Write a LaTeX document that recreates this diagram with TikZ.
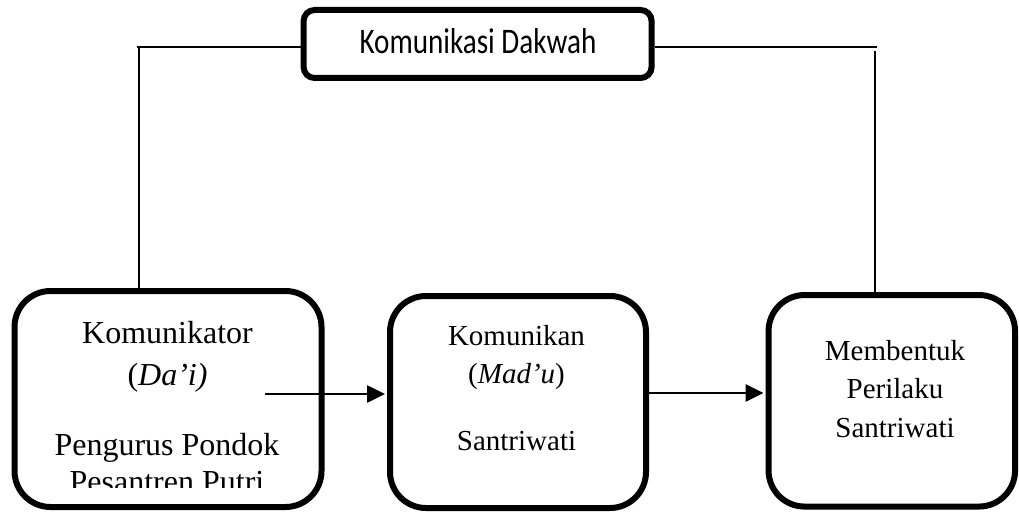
\documentclass[tikz,border=0pt]{standalone}
\usepackage{fontspec}
\setmainfont{Liberation Serif}
\newfontfamily\calib[FakeStretch=0.81]{Carlito}
\usetikzlibrary{arrows.meta}
\begin{document}
\begin{tikzpicture}[x=1pt,y=-1pt,
  bigbox/.style={draw=black, line width=6pt, rounded corners=36pt, inner sep=0pt, fill=none},
  topbox/.style={draw=black, line width=6pt, rounded corners=11pt, inner sep=0pt},
  conn/.style={draw=black, line width=1.7pt},
  arr/.style={draw=black, line width=2.6pt, -{Triangle[length=18pt,width=17pt]}},
  txtL/.style={anchor=base, inner sep=0pt, font=\fontsize{32}{38}\selectfont},
  txtM/.style={anchor=base, inner sep=0pt, font=\fontsize{29}{35}\selectfont},
  txtT/.style={anchor=base, inner sep=0pt, font=\calib\fontsize{36}{40}\selectfont}]
\useasboundingbox (0,0) rectangle (1019,513);
% boxes
\node[topbox, minimum width=348pt, minimum height=68pt] (top) at (477.6,44) {};
\node[bigbox, minimum width=307pt, minimum height=216pt] (kom) at (168,399) {};
\node[bigbox, minimum width=256pt, minimum height=212pt] (mid) at (518,402) {};
\node[bigbox, minimum width=246.5pt, minimum height=211.5pt] (rgt) at (891.8,400.8) {};
% texts
\node[txtT] (ttop) at (478,54) {Komunikasi Dakwah};
\node[txtL] (l1) at (167.5,343) {Komunikator};
\node[txtL] (l2) at (167.5,385) {(\textit{Da’i)}};
\node[txtL] (l3) at (167,455) {Pengurus Pondok};
\begin{scope}
\clip (0,0) rectangle (1019,487);
\node[txtL] (l4) at (167,492) {Pesantren Putri};
\end{scope}
\node[txtM] (m1) at (516.5,345) {Komunikan};
\node[txtM] (m2) at (516.5,383) {(\textit{Mad’u})};
\node[txtM] (m3) at (516.5,450) {Santriwati};
\node[txtM] (r1) at (895,360) {Membentuk};
\node[txtM] (r2) at (895,398) {Perilaku};
\node[txtM] (r3) at (895,437) {Santriwati};
% connectors
\coordinate (cl) at (137,47);
\coordinate (cr) at (877,47);
\coordinate (vl) at (138.5,47);
\coordinate (vr) at (875.2,51);
\draw[conn] (cl) -- (cl -| top.west);
\draw[conn] (cr) -- (cr -| top.east);
\draw[conn, line width=2pt] (vl) -- (vl |- kom.north);
\draw[conn] (vr) -- (vr |- rgt.north);
\coordinate (a1) at (265,394);
\coordinate (a2) at (646.5,393);
\draw[arr, shorten >=2pt] (a1) -- (a1 -| mid.west);
\draw[arr, shorten >=2pt] (a2) -- (a2 -| rgt.west);
\end{tikzpicture}
\end{document}
